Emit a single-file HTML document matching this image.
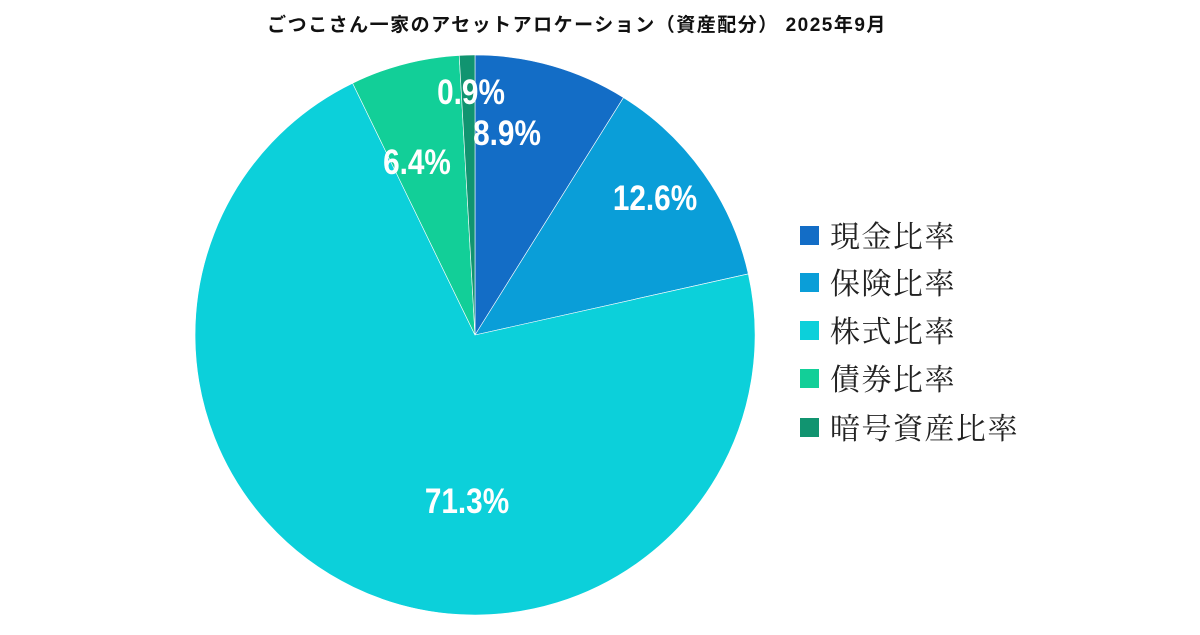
<!DOCTYPE html>
<html><head><meta charset="utf-8"><style>
body{margin:0;background:#fff;width:1200px;height:630px;overflow:hidden}
</style></head><body>
<svg width="1200" height="630" xmlns="http://www.w3.org/2000/svg">
<text x="577" y="31" text-anchor="middle" font-family="Liberation Sans, Noto Sans CJK JP, sans-serif" font-weight="bold" font-size="19" letter-spacing="1.5" fill="#111">ごつこさん一家のアセットアロケーション（資産配分） 2025年9月</text>
<g stroke="#fff" stroke-width="0.6">
<path d="M475,335 L475,55 A280,280 0 0,1 623.5,97.6 Z" fill="#136dc6"/>
<path d="M475,335 L623.5,97.6 A280,280 0 0,1 748.3,273.9 Z" fill="#0a9ed8"/>
<path d="M475,335 L748.3,273.9 A280,280 0 1,1 352.6,83.2 Z" fill="#0cd0da"/>
<path d="M475,335 L352.6,83.2 A280,280 0 0,1 459.2,55.4 Z" fill="#12cf98"/>
<path d="M475,335 L459.2,55.4 A280,280 0 0,1 475,55 Z" fill="#119470"/>
</g>
<g font-family="Liberation Sans Narrow, Liberation Sans, sans-serif" font-weight="bold" font-size="35" fill="#fff" text-anchor="middle">
<text x="471" y="104" transform="translate(471 0) scale(0.85 1) translate(-471 0)">0.9%</text>
<text x="507" y="145" transform="translate(507 0) scale(0.85 1) translate(-507 0)">8.9%</text>
<text x="655" y="210" transform="translate(655 0) scale(0.85 1) translate(-655 0)">12.6%</text>
<text x="417" y="174" transform="translate(417 0) scale(0.85 1) translate(-417 0)">6.4%</text>
<text x="467" y="513" transform="translate(467 0) scale(0.85 1) translate(-467 0)">71.3%</text>
</g>
<g font-family="Noto Serif CJK JP, Noto Serif CJK SC, serif" font-size="30" letter-spacing="1.5" fill="#222">
<rect x="800" y="226" width="19" height="19" fill="#136dc6"/><text x="830" y="247">現金比率</text>
<rect x="800" y="273" width="19" height="19" fill="#0a9ed8"/><text x="830" y="294">保険比率</text>
<rect x="800" y="321" width="19" height="19" fill="#0cd0da"/><text x="830" y="342">株式比率</text>
<rect x="800" y="369" width="19" height="19" fill="#12cf98"/><text x="830" y="390">債券比率</text>
<rect x="800" y="418" width="19" height="19" fill="#119470"/><text x="830" y="439">暗号資産比率</text>
</g>
</svg>
</body></html>
